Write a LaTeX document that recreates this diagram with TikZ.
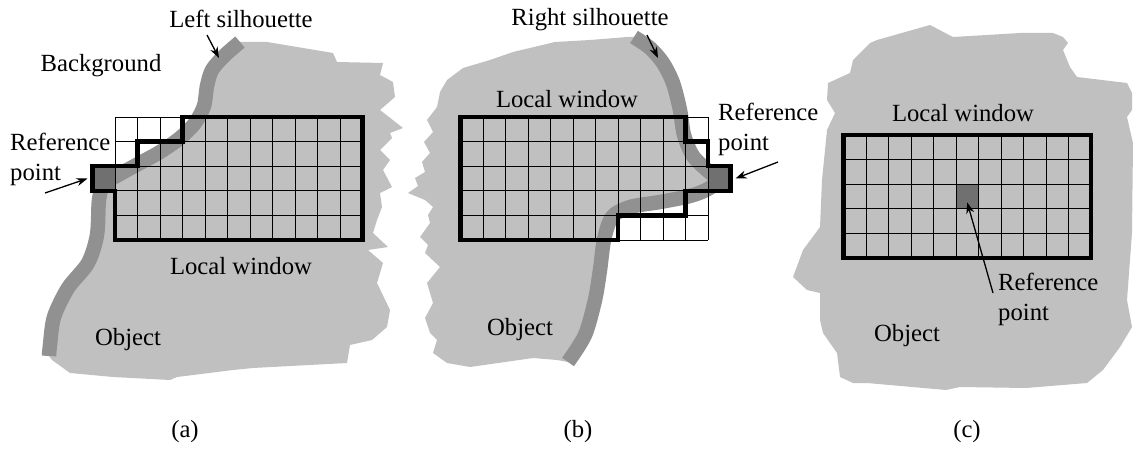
\documentclass[tikz,border=0pt]{standalone}
\usepackage{fontspec}
\setmainfont{Liberation Serif}
\usetikzlibrary{arrows.meta}
\definecolor{objgray}{RGB}{192,192,192}
\definecolor{silgray}{RGB}{145,145,145}
\definecolor{refgray}{RGB}{112,112,112}
\begin{document}
\begin{tikzpicture}[x=1pt,y=-1pt,
    lbl/.style={inner sep=0pt,font=\fontsize{24.7}{30}\selectfont},
    silhouette/.style={draw=silgray,line width=14.5pt},
    refcell/.style={fill=refgray,draw=black,line width=1pt,inner sep=0pt,minimum width=22.5pt,minimum height=24.6pt},
    gridline/.style={black,line width=0.9pt},
    window/.style={black,line width=4.5pt,line join=miter},
    pointer/.style={-{Stealth[length=11pt,width=8pt]},line width=1.3pt}]
    \useasboundingbox (0,0) rectangle (1135,460);

    % (a)
    \fill[objgray] plot[smooth] coordinates {(49,356) (50,345) (54,317) (68,288) (88,263) (97,235) (99,200) (104,184) (120,174) (140,163) (160,152) (180,138) (195,123) (204,106) (207,86) (212,70) (224,56) (240,42)}
        -- (267,42) -- (333,53) -- (337,62) -- (383,63) -- (380,75) -- (393,82) -- (395,97) -- (380,110) -- (403,128) -- (390,133) -- (392,138) -- (380,150) -- (390,160) -- (383,170) -- (392,187) -- (380,193) -- (382,207) -- (377,220) -- (373,233) -- (388,247) -- (368,250) -- (383,263) -- (377,283) -- (390,310) -- (387,327) -- (372,340) -- (350,345) -- (347,363) -- (253,368) -- (233,370) -- (177,377) -- (170,380) -- (113,377) -- (70,373) -- (52,360) -- cycle;
    \draw[silhouette] plot[smooth] coordinates {(49,356) (50,345) (54,317) (68,288) (88,263) (97,235) (99,200) (104,184) (120,174) (140,163) (160,152) (180,138) (195,123) (204,106) (207,86) (212,70) (224,56) (240,42)};
    \node[refcell] (refa) at (103.75,178.5) {};

    % (b)
    \fill[objgray] plot[smooth] coordinates {(634,37) (650,48) (663,63) (673,83) (680,110) (684,135) (693,156) (708,171) (718,180) (708,189) (690,196) (660,202) (630,207) (612,217) (604,240) (600,270) (595,300) (585,335) (568,362)}
        -- (557,360) -- (533,358) -- (470,367) -- (447,363) -- (433,353) -- (437,340) -- (430,333) -- (425,318) -- (433,303) -- (427,283) -- (440,267) -- (425,253) -- (428,245) -- (420,237) -- (430,223) -- (428,215) -- (433,207) -- (425,200) -- (408,193) -- (418,186) -- (415,178) -- (425,172) -- (422,162) -- (430,153) -- (424,142) -- (433,132) -- (427,120) -- (437,107) -- (440,92) -- (447,80) -- (463,68) -- (490,60) -- (513,52) -- (555,42) -- (590,40) -- (627,37) -- cycle;
    \draw[silhouette] plot[smooth] coordinates {(634,37) (650,48) (663,63) (673,83) (680,110) (684,135) (693,156) (708,171) (718,180) (708,189) (690,196) (660,202) (630,207) (612,217) (604,240) (600,270) (595,300) (585,335) (568,362)};
    \node[refcell] (refb) at (719.25,178.5) {};

    % (c)
    \fill[objgray] (870,43) -- (877,40) -- (930,25) -- (953,37) -- (1020,33) -- (1053,33) -- (1063,37) -- (1068,43) -- (1063,50) -- (1070,67) -- (1077,77) -- (1127,83) -- (1132,93) -- (1132,110) -- (1127,117) -- (1133,143) -- (1132,233) -- (1127,300) -- (1132,327) -- (1120,347) -- (1103,370) -- (1087,383) -- (1026,388) -- (960,387) -- (946,390) -- (867,383) -- (853,383) -- (840,377) -- (837,353) -- (823,333) -- (820,320) -- (820,293) -- (807,290) -- (793,277) -- (803,250) -- (820,227) -- (822,180) -- (827,130) -- (835,113) -- (827,100) -- (828,83) -- (850,73) -- (853,60) -- cycle;

    % cells of the three windows
    \foreach \gx/\gy in {115/117, 460.5/117, 843.5/135} {
        \foreach \i in {0,...,11}
            \draw[gridline] (\gx+22.5*\i,\gy) -- (\gx+22.5*\i,\gy+123);
        \foreach \j in {0,...,5}
            \draw[gridline] (\gx,\gy+24.6*\j) -- (\gx+247.5,\gy+24.6*\j);
    }
    \node[refcell] (refc) at (967.25,196.5) {};

    \draw[window] (115,240) -- (115,190.8) -- (92.5,190.8) -- (92.5,166.2) -- (137.5,166.2) -- (137.5,141.6) -- (182.5,141.6) -- (182.5,117) -- (362.5,117) -- (362.5,240) -- cycle;
    \draw[window] (460.5,117) -- (685.5,117) -- (685.5,141.6) -- (708,141.6) -- (708,166.2) -- (730.5,166.2) -- (730.5,190.8) -- (685.5,190.8) -- (685.5,215.4) -- (618,215.4) -- (618,240) -- (460.5,240) -- cycle;
    \draw[window] (843.5,135) rectangle (1091,258);

    \node[lbl] (lsil) at (241,19) {Left silhouette};
    \node[lbl] (bgnd) at (101,66) {Background};
    \node[lbl,align=left,anchor=north west] (refla) at (10,133) {Reference\\point};
    \node[lbl] (wina) at (241,266) {Local window};
    \node[lbl] (obja) at (128,340) {Object};
    \node[lbl] (capa) at (185,432) {(a)};

    \node[lbl] (rsil) at (590,20) {Right silhouette};
    \node[lbl,align=left,anchor=north west] (reflb) at (718,103) {Reference\\point};
    \node[lbl] (winb) at (567,99) {Local window};
    \node[lbl] (objb) at (520,330) {Object};
    \node[lbl] (capb) at (578,432) {(b)};

    \node[lbl] (winc) at (963,113) {Local window};
    \node[lbl,align=left,anchor=north west] (reflc) at (998,273) {Reference\\point};
    \node[lbl] (objc) at (907,336) {Object};
    \node[lbl] (capc) at (967,432) {(c)};

    \coordinate (lsiltail) at (207,35);
    \coordinate (lsiltip) at (219,58);
    \coordinate (refatail) at (45,193);
    \coordinate (rsiltail) at (647,35);
    \coordinate (rsiltip) at (658,58);
    \coordinate (refbtail) at (778,162);
    \coordinate (refctail) at (993,293);
    \draw[pointer] (lsiltail) -- (lsiltip);
    \draw[pointer] (refatail) -- ([xshift=-4.5pt]refa.west);
    \draw[pointer] (rsiltail) -- (rsiltip);
    \draw[pointer] (refbtail) -- ([xshift=4.5pt]refb.east);
    \draw[pointer] (refctail) -- ([yshift=-6pt]refc.center);
\end{tikzpicture}
\end{document}
